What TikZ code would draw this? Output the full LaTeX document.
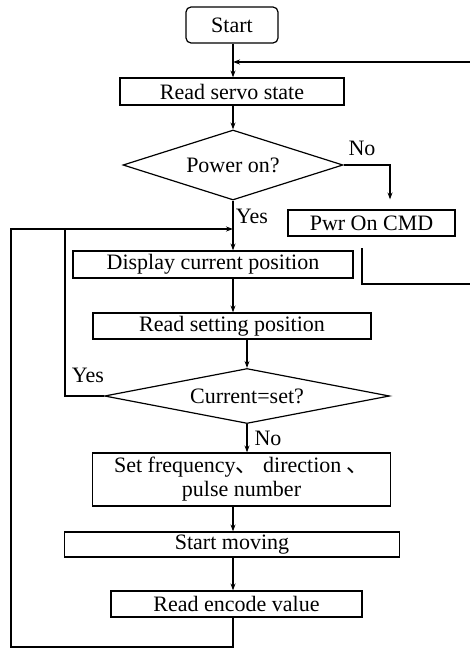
\documentclass[tikz,border=0pt]{standalone}
\usepackage{fontspec}
\setmainfont{Liberation Serif}
\newfontfamily\cjk{Noto Sans CJK SC}
\usetikzlibrary{shapes.geometric,arrows.meta,calc}
\begin{document}
\begin{tikzpicture}[x=1pt,y=-1pt,
  line width=1.2pt,
  font=\fontsize{22}{24}\selectfont,
  box/.style={draw,rectangle,inner sep=0pt,align=center},
  decision/.style={draw,diamond,inner sep=0pt},
  arr/.style={-{Stealth[length=7pt,width=5pt]}},
  lbl/.style={inner sep=0pt}]
\useasboundingbox (0,0) rectangle (470,648);
\clip (0,0) rectangle (470,648);
\node[box,rounded corners=5pt,minimum width=92pt,minimum height=36pt] (start) at (232,25) {Start};
\node[box,minimum width=224pt,minimum height=27pt] (read) at (232,91.5) {Read servo state};
\node[decision,aspect=3.14,minimum width=220pt,minimum height=70pt] (power) at (233,165) {Power on?};
\node[box,minimum width=167pt,minimum height=26pt] (pwr) at (371.5,223) {Pwr On CMD};
\node[box,minimum width=280pt,minimum height=27pt] (display) at (213,264.5) {Display current position};
\node[box,minimum width=278pt,minimum height=26pt] (readset) at (232,326) {Read setting position};
\node[decision,aspect=5.2,minimum width=285pt,minimum height=55pt] (cur) at (247,396) {Current=set?};
\node[box,minimum width=298pt,minimum height=53pt] (setf) at (241.5,479.5) {Set frequency{\cjk 、} direction {\cjk 、}\\pulse number};
\node[box,minimum width=335pt,minimum height=25pt] (move) at (232,544.5) {Start moving};
\node[box,minimum width=251pt,minimum height=26pt] (enc) at (236.5,604) {Read encode value};
\node[lbl] (no1) at (362,148) {No};
\node[lbl] (yes1) at (252,216) {Yes};
\node[lbl] (yes2) at (88,375) {Yes};
\node[lbl] (no2) at (268,438) {No};
\coordinate (retstart) at (362,248);
\coordinate (join) at (233,62);
\coordinate (loopin) at (233,229);
% connectors
\draw[arr] (start.south -| join) -- (read.north -| join);
\draw[arr] (retstart) -- (362,284) -- (480,284) -- (480,62) -- (join);
\draw[arr] (read.south -| power.north) -- (power.north);
\draw[arr] (power.east) -| ($(pwr.north)+(18.5,-10)$);
\draw[arr] (power.south) -- (power.south |- display.north);
\draw[arr] (power.south |- display.south) -- (power.south |- readset.north);
\draw[arr] (cur.north |- readset.south) -- (cur.north);
\draw (cur.west) -- (65,396) -- (65,229);
\draw[arr] (cur.south) -- (cur.south |- setf.north);
\draw[arr] (setf.south -| join) -- (move.north -| join);
\draw[arr] (move.south -| join) -- (enc.north -| join);
\draw[arr] (enc.south -| join) -- (233,647) -- (11,647) -- (11,229) -- (loopin);
\end{tikzpicture}
\end{document}
